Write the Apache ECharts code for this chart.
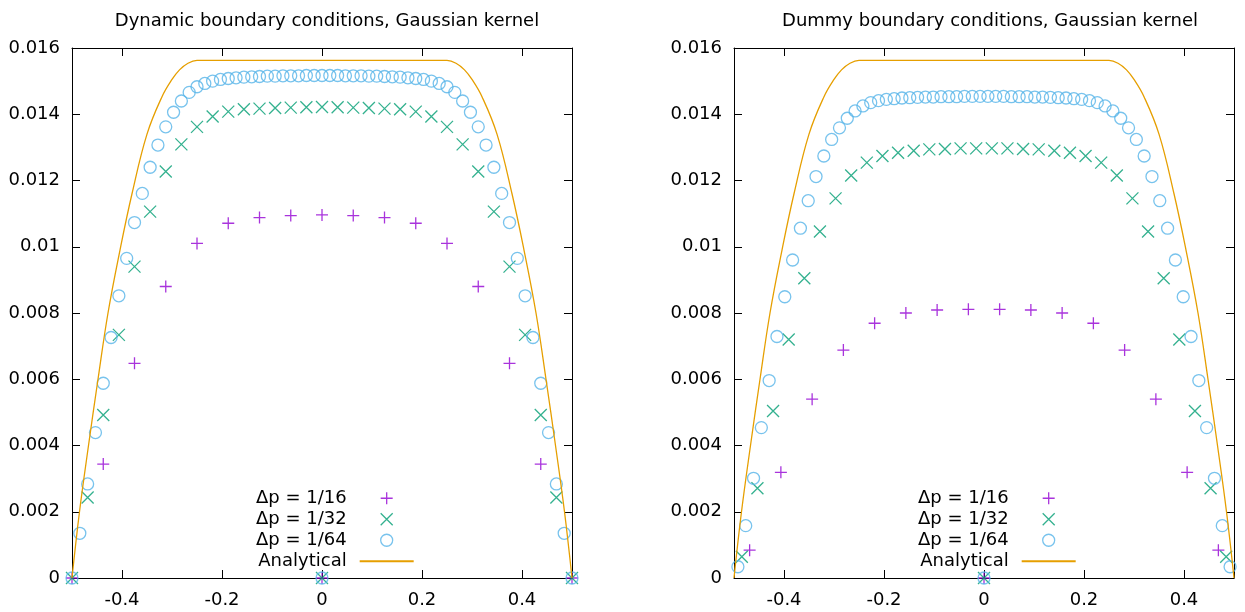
<!DOCTYPE html>
<html>
<head>
<meta charset="utf-8">
<title>Boundary conditions, Gaussian kernel</title>
<script src="https://cdn.jsdelivr.net/npm/echarts@6.0.0/dist/echarts.min.js"></script>
<style>
  html, body { margin: 0; padding: 0; background: #fff; }
  #chart { width: 1245px; height: 612px; }
</style>
</head>
<body>
<div id="chart"></div>
<script>
// Titles and legend names
var panelTitles = ['Dynamic boundary conditions, Gaussian kernel', 'Dummy boundary conditions, Gaussian kernel'];
var seriesNames = ['Δp = 1/16', 'Δp = 1/32', 'Δp = 1/64', 'Analytical'];

// Tick labels
var xTicks = [-0.4, -0.2, 0, 0.2, 0.4];

// Dynamic boundary conditions, dp = 1/16
var dynX16 = [-0.5, -0.4375, -0.375, -0.3125, -0.25, -0.1875, -0.125, -0.0625, 0,
    0.0625, 0.125, 0.1875, 0.25, 0.3125, 0.375, 0.4375, 0.5];
var dynY16 = [0, 0.00344, 0.00648, 0.0088, 0.0101, 0.01071, 0.01088, 0.01094, 0.01096,
    0.01094, 0.01088, 0.01071, 0.0101, 0.0088, 0.00648, 0.00344, 0];

// Dynamic boundary conditions, dp = 1/32
var dynX32 = [-0.5, -0.46875, -0.4375, -0.40625, -0.375, -0.34375, -0.3125, -0.28125, -0.25,
    -0.21875, -0.1875, -0.15625, -0.125, -0.09375, -0.0625, -0.03125, 0,
    0.03125, 0.0625, 0.09375, 0.125, 0.15625, 0.1875, 0.21875, 0.25,
    0.28125, 0.3125, 0.34375, 0.375, 0.40625, 0.4375, 0.46875, 0.5];
var dynY32 = [0, 0.00243, 0.00492, 0.00734, 0.0094, 0.01106, 0.01227, 0.01309, 0.01362,
    0.01393, 0.01408, 0.01415, 0.01417, 0.01419, 0.0142, 0.01421, 0.01422,
    0.01421, 0.0142, 0.01419, 0.01417, 0.01415, 0.01408, 0.01393, 0.01362,
    0.01309, 0.01227, 0.01106, 0.0094, 0.00734, 0.00492, 0.00243, 0];

// Dynamic boundary conditions, dp = 1/64
var dynX64 = [-0.5, -0.484375, -0.46875, -0.453125, -0.4375, -0.421875, -0.40625, -0.390625,
    -0.375, -0.359375, -0.34375, -0.328125, -0.3125, -0.296875, -0.28125, -0.265625,
    -0.25, -0.234375, -0.21875, -0.203125, -0.1875, -0.171875, -0.15625, -0.140625,
    -0.125, -0.109375, -0.09375, -0.078125, -0.0625, -0.046875, -0.03125, -0.015625, 0,
    0.015625, 0.03125, 0.046875, 0.0625, 0.078125, 0.09375, 0.109375, 0.125,
    0.140625, 0.15625, 0.171875, 0.1875, 0.203125, 0.21875, 0.234375, 0.25,
    0.265625, 0.28125, 0.296875, 0.3125, 0.328125, 0.34375, 0.359375, 0.375,
    0.390625, 0.40625, 0.421875, 0.4375, 0.453125, 0.46875, 0.484375, 0.5];
var dynY64 = [0, 0.00135, 0.00284, 0.00439, 0.00588, 0.00726, 0.00852, 0.00965,
    0.01073, 0.01161, 0.0124, 0.01307, 0.01362, 0.01406, 0.0144, 0.01466,
    0.01483, 0.01493, 0.015, 0.01505, 0.01508, 0.0151, 0.01512, 0.01513,
    0.01514, 0.01515, 0.01515, 0.01516, 0.01516, 0.01516, 0.01517, 0.01517, 0.01517,
    0.01517, 0.01517, 0.01516, 0.01516, 0.01516, 0.01515, 0.01515, 0.01514,
    0.01513, 0.01512, 0.0151, 0.01508, 0.01505, 0.015, 0.01493, 0.01483,
    0.01466, 0.0144, 0.01406, 0.01362, 0.01307, 0.0124, 0.01161, 0.01073,
    0.00965, 0.00852, 0.00726, 0.00588, 0.00439, 0.00284, 0.00135, 0];

// Dummy boundary conditions, dp = 1/16
var dumX16 = [-0.46875, -0.40625, -0.34375, -0.28125, -0.21875, -0.15625, -0.09375, -0.03125,
    0.03125, 0.09375, 0.15625, 0.21875, 0.28125, 0.34375, 0.40625, 0.46875];
var dumY16 = [0.00084, 0.00319, 0.0054, 0.00688, 0.00769, 0.008, 0.00809, 0.00811,
    0.00811, 0.00809, 0.008, 0.00769, 0.00688, 0.0054, 0.00319, 0.00084];

// Dummy boundary conditions, dp = 1/32
var dumX32 = [-0.484375, -0.453125, -0.421875, -0.390625, -0.359375, -0.328125, -0.296875, -0.265625,
    -0.234375, -0.203125, -0.171875, -0.140625, -0.109375, -0.078125, -0.046875, -0.015625,
    0.015625, 0.046875, 0.078125, 0.109375, 0.140625, 0.171875, 0.203125, 0.234375,
    0.265625, 0.296875, 0.328125, 0.359375, 0.390625, 0.421875, 0.453125, 0.484375];
var dumY32 = [0.00064, 0.00271, 0.00504, 0.0072, 0.00905, 0.01046, 0.01146, 0.01215,
    0.01254, 0.01274, 0.01284, 0.0129, 0.01294, 0.01295, 0.01297, 0.01297,
    0.01297, 0.01297, 0.01295, 0.01294, 0.0129, 0.01284, 0.01274, 0.01254,
    0.01215, 0.01146, 0.01046, 0.00905, 0.0072, 0.00504, 0.00271, 0.00064];

// Dummy boundary conditions, dp = 1/64
var dumX64 = [-0.4921875, -0.4765625, -0.4609375, -0.4453125, -0.4296875, -0.4140625, -0.3984375, -0.3828125,
    -0.3671875, -0.3515625, -0.3359375, -0.3203125, -0.3046875, -0.2890625, -0.2734375, -0.2578125,
    -0.2421875, -0.2265625, -0.2109375, -0.1953125, -0.1796875, -0.1640625, -0.1484375, -0.1328125,
    -0.1171875, -0.1015625, -0.0859375, -0.0703125, -0.0546875, -0.0390625, -0.0234375, -0.0078125,
    0.0078125, 0.0234375, 0.0390625, 0.0546875, 0.0703125, 0.0859375, 0.1015625, 0.1171875,
    0.1328125, 0.1484375, 0.1640625, 0.1796875, 0.1953125, 0.2109375, 0.2265625, 0.2421875,
    0.2578125, 0.2734375, 0.2890625, 0.3046875, 0.3203125, 0.3359375, 0.3515625, 0.3671875,
    0.3828125, 0.3984375, 0.4140625, 0.4296875, 0.4453125, 0.4609375, 0.4765625, 0.4921875];
var dumY64 = [0.00034, 0.00158, 0.00301, 0.00454, 0.00596, 0.00729, 0.00849, 0.0096,
    0.01056, 0.01139, 0.01212, 0.01274, 0.01324, 0.01359, 0.01388, 0.0141,
    0.01425, 0.01435, 0.01441, 0.01445, 0.01447, 0.01449, 0.0145, 0.01451,
    0.01452, 0.01452, 0.01453, 0.01453, 0.01453, 0.01454, 0.01454, 0.01454,
    0.01454, 0.01454, 0.01454, 0.01453, 0.01453, 0.01453, 0.01452, 0.01452,
    0.01451, 0.0145, 0.01449, 0.01447, 0.01445, 0.01441, 0.01435, 0.01425,
    0.0141, 0.01388, 0.01359, 0.01324, 0.01274, 0.01212, 0.01139, 0.01056,
    0.0096, 0.00849, 0.00729, 0.00596, 0.00454, 0.00301, 0.00158, 0.00034];

// Stray point at the origin present in every series
var strayX = [0];
var strayY = [0];

// Analytical profile (same in both panels)
var anaX = [-0.5, -0.485, -0.467, -0.448, -0.428, -0.404, -0.38, -0.35, -0.32, -0.3, -0.285, -0.268, -0.25,
    0.25, 0.268, 0.285, 0.3, 0.32, 0.35, 0.38, 0.404, 0.428, 0.448, 0.467, 0.485, 0.5];
var anaY = [0, 0.002, 0.004, 0.006, 0.008, 0.0099, 0.0116, 0.0134, 0.01453, 0.01505, 0.01534, 0.01554, 0.015625,
    0.015625, 0.01554, 0.01534, 0.01505, 0.01453, 0.0134, 0.0116, 0.0099, 0.008, 0.006, 0.004, 0.002, 0];

document.addEventListener('DOMContentLoaded', function () {
    var FONT = 'DejaVu Sans';
    var FONT_SIZE = 18;
    var colors = ['#9400D3', '#009E73', '#56B4E9', '#E69F00'];
    var plusPath = 'path://M0,6L12,6M6,0L6,12';
    var crossPath = 'path://M0,0L12,12M12,0L0,12';

    function pairs(xs, ys) {
        var out = xs.map(function (x, i) { return [x, ys[i]]; });
        strayX.forEach(function (x, i) { out.push([x, strayY[i]]); });
        return out;
    }

    function fmtY(v) {
        return String(+v.toFixed(3));
    }

    function xAxisFor(grid, pos) {
        return {
            type: 'value', gridIndex: grid, position: pos, min: -0.5, max: 0.5,
            axisLine: { show: true, onZero: false, lineStyle: { color: '#000', width: 1 } },
            axisTick: { show: true, inside: true, length: 8, customValues: xTicks, lineStyle: { color: '#000' } },
            axisLabel: {
                show: pos === 'bottom', customValues: xTicks, margin: 13,
                color: '#000', fontFamily: FONT, fontSize: FONT_SIZE,
                formatter: function (v) { return String(+v.toFixed(1)); }
            },
            splitLine: { show: false }
        };
    }

    function yAxisFor(grid, pos) {
        return {
            type: 'value', gridIndex: grid, position: pos, min: 0, max: 0.016, interval: 0.002,
            axisLine: { show: true, onZero: false, lineStyle: { color: '#000', width: 1 } },
            axisTick: { show: true, inside: true, length: 8, lineStyle: { color: '#000' } },
            axisLabel: {
                show: pos === 'left', margin: 12,
                color: '#000', fontFamily: FONT, fontSize: FONT_SIZE,
                formatter: fmtY
            },
            splitLine: { show: false }
        };
    }

    function panelSeries(axisIdx, d16, d32, d64) {
        var marker = function (name, sym, size, data, color) {
            return {
                name: name, type: 'scatter', xAxisIndex: axisIdx, yAxisIndex: axisIdx,
                symbol: sym, symbolSize: size, clip: false, data: data,
                itemStyle: { color: 'none', borderColor: color, borderWidth: 1.3 },
                emphasis: { disabled: true }
            };
        };
        return [
            marker(seriesNames[0], plusPath, 12, d16, colors[0]),
            marker(seriesNames[1], crossPath, 12, d32, colors[1]),
            marker(seriesNames[2], 'circle', 12, d64, colors[2]),
            {
                name: seriesNames[3], type: 'line', xAxisIndex: axisIdx, yAxisIndex: axisIdx,
                data: anaX.map(function (x, i) { return [x, anaY[i]]; }),
                showSymbol: false, symbol: 'none', smooth: 0.4,
                lineStyle: { color: colors[3], width: 1.3 },
                itemStyle: { color: colors[3] },
                emphasis: { disabled: true }
            }
        ];
    }

    function legendAt(left) {
        return {
            orient: 'vertical', left: left, top: 488, padding: 0, itemGap: 0.5,
            align: 'right', itemWidth: 54, itemHeight: 12,
            data: [
                seriesNames[0], seriesNames[1], seriesNames[2],
                // the line's legend sample should carry no dot
                { name: seriesNames[3], itemStyle: { opacity: 0 } }
            ],
            selectedMode: false,
            itemStyle: { borderWidth: 1.3 },
            textStyle: { color: '#000', fontFamily: FONT, fontSize: FONT_SIZE, lineHeight: 20.5, padding: [0, 8, 0, 0] }
        };
    }

    var chart = echarts.init(document.getElementById('chart'));

    var option = {
        animation: false,
        backgroundColor: '#fff',
        color: colors,
        title: [
            { text: panelTitles[0], left: 322, top: 7, textAlign: 'center',
              textStyle: { fontFamily: FONT, fontSize: FONT_SIZE, fontWeight: 'normal', color: '#000' } },
            { text: panelTitles[1], left: 985, top: 7, textAlign: 'center',
              textStyle: { fontFamily: FONT, fontSize: FONT_SIZE, fontWeight: 'normal', color: '#000' } }
        ],
        legend: [legendAt(256), legendAt(918)],
        grid: [
            { left: 72, right: 673, top: 48, bottom: 34 },
            { left: 734, right: 11, top: 48, bottom: 34 }
        ],
        xAxis: [xAxisFor(0, 'bottom'), xAxisFor(0, 'top'), xAxisFor(1, 'bottom'), xAxisFor(1, 'top')],
        yAxis: [yAxisFor(0, 'left'), yAxisFor(0, 'right'), yAxisFor(1, 'left'), yAxisFor(1, 'right')],
        series: [].concat(
            panelSeries(0, pairs(dynX16, dynY16), pairs(dynX32, dynY32), pairs(dynX64, dynY64)),
            panelSeries(2, pairs(dumX16, dumY16), pairs(dumX32, dumY32), pairs(dumX64, dumY64))
        )
    };

    chart.setOption(option);
});
</script>
</body>
</html>
